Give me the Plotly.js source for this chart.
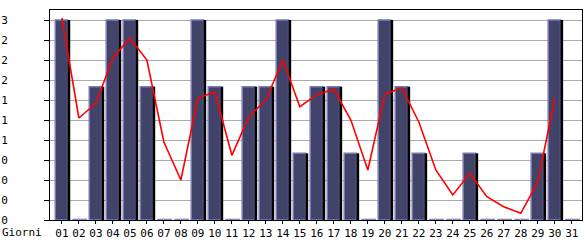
<!DOCTYPE html>
<html>
<head>
<meta charset="utf-8">
<script src="https://cdn.plot.ly/plotly-3.0.1.min.js"></script>
<style>html,body{margin:0;padding:0;background:#fff;}#chart{width:585px;height:240px;}</style>
</head>
<body>
<div id="chart"></div>
<script>
const days = ['01','02','03','04','05','06','07','08','09','10','11','12','13','14','15','16','17','18','19','20','21','22','23','24','25','26','27','28','29','30','31'];
const visits = [3,0,2,3,3,2,0,0,3,2,0,2,2,3,1,2,2,1,0,3,2,1,0,0,1,0,0,0,1,3,0];
const trend = [3.03,1.53,1.75,2.43,2.73,2.4,1.17,0.6,1.83,1.92,0.97,1.55,1.8,2.4,1.7,1.88,1.96,1.5,0.75,1.89,1.98,1.47,0.75,0.375,0.7,0.35,0.2,0.1,0.57,1.83,null];
const yTickVals = [0,0.3,0.6,0.9,1.2,1.5,1.8,2.1,2.4,2.7,3];
const yTickText = ['0','0','0','0','1','1','1','2','2','2','3'];
const xLabel = 'Giorni';

const zeroMarks = visits.map(v => v === 0 ? 0.02 : null);

const traces = [
  {type:'bar', x:days, y:visits, width:0.73, offset:-0.39,
   marker:{color:'#414369', line:{color:'#7a7ab6', width:1.5}}, hoverinfo:'skip'},
  {type:'bar', x:days, y:visits, width:0.16, offset:0.33,
   marker:{color:'#000000', line:{width:0}}, hoverinfo:'skip'},
  {type:'bar', x:days, y:zeroMarks, width:0.85, offset:-0.37,
   marker:{color:'#8a8ab8', line:{width:0}}, hoverinfo:'skip'},
  {type:'scatter', mode:'lines', x:days, y:trend,
   line:{color:'#ff0000', width:1.6}, hoverinfo:'skip', connectgaps:false}
];

const layout = {
  width:585, height:240,
  margin:{l:50, r:3, t:10, b:20, pad:0},
  paper_bgcolor:'#ffffff', plot_bgcolor:'#ffffff',
  barmode:'overlay', showlegend:false,
  font:{family:'DejaVu Sans Mono, monospace', size:11, color:'#000'},
  xaxis:{type:'category', range:[-0.7,30.6], showgrid:false, zeroline:false,
         showline:true, linecolor:'#000', linewidth:1, mirror:true,
         ticks:'outside', ticklen:3, tickcolor:'#000', tickwidth:1,
         tickfont:{family:'DejaVu Sans Mono, monospace', size:11, color:'#000'}},
  yaxis:{range:[0,3.15], tickvals:yTickVals, ticktext:yTickText,
         showgrid:true, gridcolor:'#aaaaaa', gridwidth:1, zeroline:false,
         showline:true, linecolor:'#000', linewidth:1, mirror:true,
         ticks:'outside', ticklen:5, tickcolor:'#000', tickwidth:1,
         ticklabelstandoff:34,
         tickfont:{family:'DejaVu Sans Mono, monospace', size:11, color:'#000'}},
  annotations:[{text:xLabel, xref:'paper', yref:'paper', x:-50/532, y:0,
    xanchor:'left', yanchor:'middle', yshift:-12, showarrow:false,
    font:{family:'DejaVu Sans Mono, monospace', size:11, color:'#000'}}]
};

Plotly.newPlot('chart', traces, layout, {staticPlot:true, displayModeBar:false});
</script>
</body>
</html>
